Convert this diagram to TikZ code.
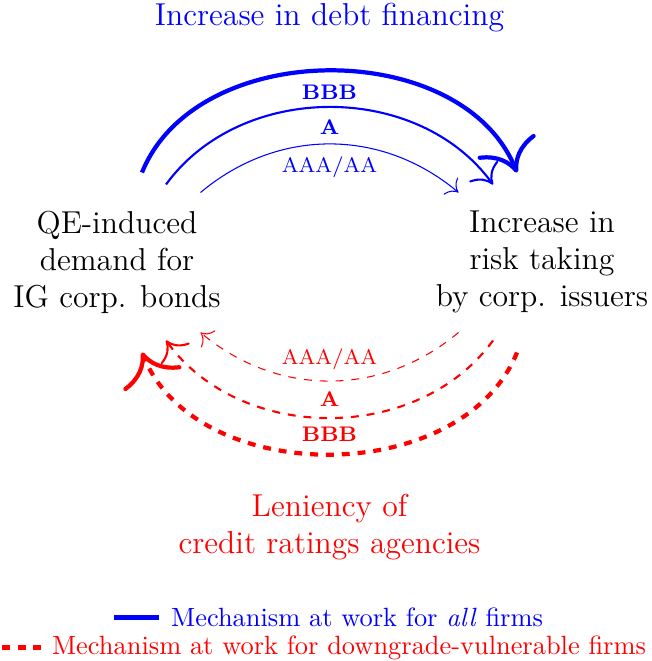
\documentclass[tikz,border=0pt]{standalone}
\usepackage{amsmath,amssymb}
\usepackage{xcolor}
\usepackage{tikz}
\usetikzlibrary{positioning,arrows.meta,calc}
\tikzset{
  mainbox/.style={font=\large,align=center},
  arclab/.style={font=\footnotesize,inner sep=3pt},
  upflow/.style={blue},
  downflow/.style={red,dashed},
}

\begin{document}
\begin{tikzpicture}[x=0.3788pt,y=-0.3788pt]
  \useasboundingbox (0,0) rectangle (651,661);
  \node[mainbox] (qe) at (117,262) {QE-induced\\demand for\\IG corp. bonds};
  \node[mainbox] (risk) at (542,262) {Increase in\\risk taking\\by corp. issuers};
  \node[mainbox,blue] (debt) at (329.5,18) {Increase in debt financing};
  \node[mainbox,red] (lenient) at (329.5,527) {Leniency of\\credit ratings agencies};
  \foreach \lab/\lw/\hw/\dy/\bnd/\tip [count=\i] in {
      {AAA/AA}/0.4/129/70/40/1.6,
      {\textbf{A}}/0.8/163.5/78/54/1.9,
      {\textbf{BBB}}/1.6/187.5/90/68/2.2} {
    \coordinate (upL\i) at (329.5-\hw,262.5-\dy);
    \coordinate (upR\i) at (329.5+\hw,262.5-\dy);
    \coordinate (dnL\i) at (329.5-\hw,262.5+\dy);
    \coordinate (dnR\i) at (329.5+\hw,262.5+\dy);
    \draw[upflow,line width=\lw pt,-{To[scale=\tip]}] (upL\i) to[bend left=\bnd]
      node[arclab,below=1.5pt] (upLab\i) {\lab} (upR\i);
    \draw[downflow,line width=\lw pt,-{To[scale=\tip]}] (dnR\i) to[bend left=\bnd]
      node[arclab,above=1pt] (dnLab\i) {\lab} (dnL\i);
  }
  \node[blue] (allLeg) at (357,617.5) {Mechanism at work for \emph{all} firms};
  \node[red] (someLeg) at (349,647.5) {Mechanism at work for downgrade-vulnerable firms};
  \draw[blue,line width=1.6pt] ([xshift=-18pt]allLeg.west) -- ([xshift=-1pt]allLeg.west);
  \draw[red,dashed,line width=1.6pt] ([xshift=-15.5pt]someLeg.west) -- ([xshift=-0.5pt]someLeg.west);
\end{tikzpicture}
\end{document}
